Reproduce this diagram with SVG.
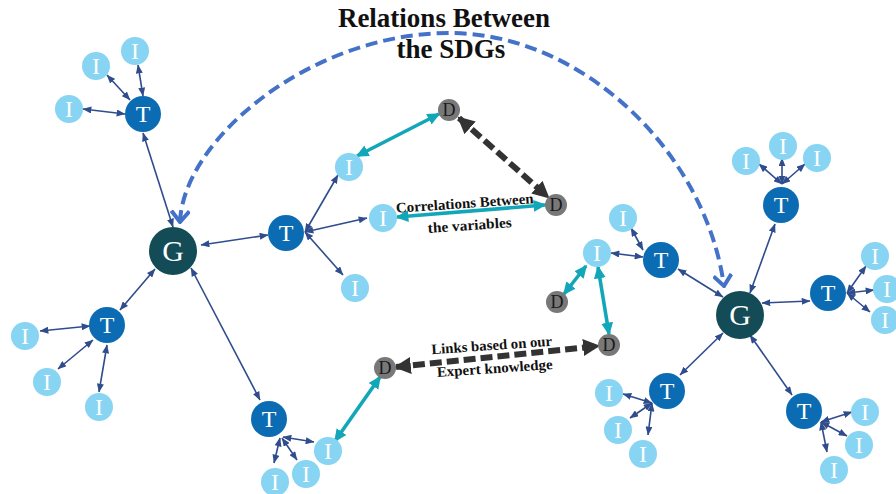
<svg xmlns="http://www.w3.org/2000/svg" width="896" height="494" viewBox="0 0 896 494">
  <style>
    .lbl { font-family: "Liberation Serif", "DejaVu Serif", serif; text-anchor: middle; }
    .g circle { fill: #134B57; }
    .t circle { fill: #0C6CB3; }
    .i circle { fill: #87D4F3; }
    .d circle { fill: #787878; }
    .g text { fill: #ffffff; font-size: 30px; }
    .t text { fill: #ffffff; font-size: 24px; }
    .i text { fill: #ffffff; font-size: 24px; }
    .d text { fill: #1a1a1a; font-size: 18px; }
    .thin { stroke: #2F4C8C; stroke-width: 1.6; fill: none; marker-start: url(#ah); marker-end: url(#ah); }
    .cyan { stroke: #12A7B8; stroke-width: 3.6; fill: none; marker-start: url(#ahc); marker-end: url(#ahc); }
    .dash { stroke: #333333; stroke-width: 6; fill: none; stroke-dasharray: 12 5; marker-start: url(#ahd); marker-end: url(#ahd); }
    .arc { stroke: #4472C8; stroke-width: 4; fill: none; stroke-dasharray: 12 6; marker-start: url(#chev); marker-end: url(#chev); }
    .note { font-family: "Liberation Serif", "DejaVu Serif", serif; font-weight: bold; font-size: 14.5px; fill: #111111; text-anchor: middle; }
    .title { font-family: "Liberation Serif", "DejaVu Serif", serif; font-weight: bold; font-size: 27px; fill: #111111; text-anchor: middle; }
  </style>
  <defs>
    <marker id="ah" viewBox="0 0 10 8" refX="9.5" refY="4" markerWidth="9" markerHeight="7" markerUnits="userSpaceOnUse" orient="auto-start-reverse">
      <path d="M0,0 L10,4 L0,8 z" fill="#2F4C8C"/>
    </marker>
    <marker id="ahc" viewBox="0 0 12 11" refX="10.5" refY="5.5" markerWidth="13" markerHeight="12" markerUnits="userSpaceOnUse" orient="auto-start-reverse">
      <path d="M0,0 L12,5.5 L0,11 z" fill="#12A7B8"/>
    </marker>
    <marker id="ahd" viewBox="0 0 16 16" refX="14" refY="8" markerWidth="17" markerHeight="17" markerUnits="userSpaceOnUse" orient="auto-start-reverse">
      <path d="M0,0 L16,8 L0,16 z" fill="#333333"/>
    </marker>
    <marker id="chev" viewBox="0 0 14 20" refX="12" refY="10" markerWidth="14" markerHeight="20" markerUnits="userSpaceOnUse" orient="auto-start-reverse">
      <path d="M1,1 L12,10 L1,19" fill="none" stroke="#4472C8" stroke-width="4"/>
    </marker>
  </defs>

  <rect width="896" height="494" fill="#ffffff"/>

  <!-- title -->
  <text class="title" x="444" y="27">Relations Between</text>
  <text class="title" x="451" y="58">the SDGs</text>

  <g id="connectors">
    <!-- dashed arc between the two goals -->
    <path class="arc" d="M180,222 C183,140 310,33 450,33 C580,33 705,150 724,286"/>

    <!-- left goal tree -->
    <path class="thin" d="M173,227 L143,133"/>
    <path class="thin" d="M130,100 L107,75"/>
    <path class="thin" d="M143,96 L138,65"/>
    <path class="thin" d="M125,114 L83,109"/>
    <path class="thin" d="M201,245 L268,235"/>
    <path class="thin" d="M305,232 L338,175"/>
    <path class="thin" d="M305,232 L367,218"/>
    <path class="thin" d="M305,232 L343,275"/>
    <path class="thin" d="M155,269 L120,310"/>
    <path class="thin" d="M90,326 L40,331"/>
    <path class="thin" d="M93,340 L58,369"/>
    <path class="thin" d="M107,345 L99,392"/>
    <path class="thin" d="M191,268 L260,400"/>
    <path class="thin" d="M283,437 L314,442"/>
    <path class="thin" d="M282,438 L297,460"/>
    <path class="thin" d="M280,438 L274,463"/>

    <!-- right goal tree -->
    <path class="thin" d="M678,269 L723,297"/>
    <path class="thin" d="M643,257 L611,253"/>
    <path class="thin" d="M643,250 L631,228"/>
    <path class="thin" d="M750,293 L775,224"/>
    <path class="thin" d="M782,184 L759,164"/>
    <path class="thin" d="M782,184 L782,158"/>
    <path class="thin" d="M782,184 L805,164"/>
    <path class="thin" d="M762,303 L810,301"/>
    <path class="thin" d="M847,293 L866,266"/>
    <path class="thin" d="M847,293 L874,290"/>
    <path class="thin" d="M847,293 L870,312"/>
    <path class="thin" d="M723,333 L680,375"/>
    <path class="thin" d="M652,403 L623,394"/>
    <path class="thin" d="M652,403 L630,418"/>
    <path class="thin" d="M652,403 L648,435"/>
    <path class="thin" d="M750,335 L792,395"/>
    <path class="thin" d="M821,422 L852,412"/>
    <path class="thin" d="M821,422 L847,436"/>
    <path class="thin" d="M821,422 L827,452"/>

    <!-- correlations between variables -->
    <path class="cyan" d="M357,156 L439,114"/>
    <path class="cyan" d="M397,217 L545,205"/>
    <path class="cyan" d="M335,441 L380,377"/>
    <path class="cyan" d="M586,266 L564,294"/>
    <path class="cyan" d="M598,267 L609,334"/>

    <!-- expert knowledge links -->
    <path class="dash" d="M459,118 L548,197"/>
    <path class="dash" d="M396,367 L598,346"/>
  </g>

  <!-- link labels -->
  <text class="note" x="465" y="208" transform="rotate(-4 465 208)" textLength="138" lengthAdjust="spacingAndGlyphs">Correlations Between</text>
  <text class="note" x="470" y="230" transform="rotate(-4 470 230)" textLength="84" lengthAdjust="spacingAndGlyphs">the  variables</text>
  <text class="note" x="492" y="350" transform="rotate(-4 492 350)" textLength="121" lengthAdjust="spacingAndGlyphs">Links based on our</text>
  <text class="note" x="495" y="373" transform="rotate(-4 495 373)" textLength="116" lengthAdjust="spacingAndGlyphs">Expert knowledge</text>

  <!-- left goal -->
  <g id="G1" class="g"><circle cx="173" cy="251" r="24"/><text class="lbl" x="173" y="261">G</text></g>
  <g id="T1" class="t"><circle cx="143" cy="114" r="18"/><text class="lbl" x="143" y="122">T</text></g>
  <g id="I1a" class="i"><circle cx="135" cy="51" r="14"/><text class="lbl" x="135" y="59">I</text></g>
  <g id="I1b" class="i"><circle cx="96" cy="66" r="14"/><text class="lbl" x="96" y="74">I</text></g>
  <g id="I1c" class="i"><circle cx="69" cy="109" r="14"/><text class="lbl" x="69" y="117">I</text></g>
  <g id="T2" class="t"><circle cx="286" cy="233" r="18"/><text class="lbl" x="286" y="241">T</text></g>
  <g id="I2a" class="i"><circle cx="349" cy="167" r="14"/><text class="lbl" x="349" y="175">I</text></g>
  <g id="I2b" class="i"><circle cx="383" cy="218" r="14"/><text class="lbl" x="383" y="226">I</text></g>
  <g id="I2c" class="i"><circle cx="355" cy="288" r="14"/><text class="lbl" x="355" y="296">I</text></g>
  <g id="T3" class="t"><circle cx="107" cy="325" r="18"/><text class="lbl" x="107" y="333">T</text></g>
  <g id="I3a" class="i"><circle cx="25" cy="336" r="14"/><text class="lbl" x="25" y="344">I</text></g>
  <g id="I3b" class="i"><circle cx="47" cy="382" r="14"/><text class="lbl" x="47" y="390">I</text></g>
  <g id="I3c" class="i"><circle cx="99" cy="407" r="14"/><text class="lbl" x="99" y="415">I</text></g>
  <g id="T4" class="t"><circle cx="269" cy="419" r="18"/><text class="lbl" x="269" y="427">T</text></g>
  <g id="I4a" class="i"><circle cx="328" cy="451" r="14"/><text class="lbl" x="328" y="459">I</text></g>
  <g id="I4b" class="i"><circle cx="306" cy="474" r="14"/><text class="lbl" x="306" y="482">I</text></g>
  <g id="I4c" class="i"><circle cx="275" cy="482" r="14"/><text class="lbl" x="275" y="490">I</text></g>

  <!-- data nodes -->
  <g id="D1" class="d"><circle cx="449" cy="110" r="11"/><text class="lbl" x="449" y="116">D</text></g>
  <g id="D2" class="d"><circle cx="556" cy="205" r="11"/><text class="lbl" x="556" y="211">D</text></g>
  <g id="D3" class="d"><circle cx="385" cy="368" r="11"/><text class="lbl" x="385" y="374">D</text></g>
  <g id="D4" class="d"><circle cx="609" cy="345" r="11"/><text class="lbl" x="609" y="351">D</text></g>
  <g id="D5" class="d"><circle cx="557" cy="302" r="11"/><text class="lbl" x="557" y="308">D</text></g>

  <!-- right goal -->
  <g id="G2" class="g"><circle cx="740" cy="315" r="24"/><text class="lbl" x="740" y="325">G</text></g>
  <g id="T5" class="t"><circle cx="661" cy="260" r="18"/><text class="lbl" x="661" y="268">T</text></g>
  <g id="I5a" class="i"><circle cx="597" cy="253" r="14"/><text class="lbl" x="597" y="261">I</text></g>
  <g id="I5b" class="i"><circle cx="623" cy="218" r="14"/><text class="lbl" x="623" y="226">I</text></g>
  <g id="T6" class="t"><circle cx="781" cy="205" r="18"/><text class="lbl" x="781" y="213">T</text></g>
  <g id="I6a" class="i"><circle cx="746" cy="161" r="14"/><text class="lbl" x="746" y="169">I</text></g>
  <g id="I6b" class="i"><circle cx="783" cy="146" r="14"/><text class="lbl" x="783" y="154">I</text></g>
  <g id="I6c" class="i"><circle cx="817" cy="158" r="14"/><text class="lbl" x="817" y="166">I</text></g>
  <g id="T7" class="t"><circle cx="828" cy="293" r="18"/><text class="lbl" x="828" y="301">T</text></g>
  <g id="I7a" class="i"><circle cx="875" cy="256" r="14"/><text class="lbl" x="875" y="264">I</text></g>
  <g id="I7b" class="i"><circle cx="887" cy="289" r="14"/><text class="lbl" x="887" y="297">I</text></g>
  <g id="I7c" class="i"><circle cx="885" cy="320" r="14"/><text class="lbl" x="885" y="328">I</text></g>
  <g id="T8" class="t"><circle cx="667" cy="391" r="18"/><text class="lbl" x="667" y="399">T</text></g>
  <g id="I8a" class="i"><circle cx="609" cy="393" r="14"/><text class="lbl" x="609" y="401">I</text></g>
  <g id="I8b" class="i"><circle cx="618" cy="430" r="14"/><text class="lbl" x="618" y="438">I</text></g>
  <g id="I8c" class="i"><circle cx="643" cy="454" r="14"/><text class="lbl" x="643" y="462">I</text></g>
  <g id="T9" class="t"><circle cx="804" cy="411" r="18"/><text class="lbl" x="804" y="419">T</text></g>
  <g id="I9a" class="i"><circle cx="865" cy="412" r="14"/><text class="lbl" x="865" y="420">I</text></g>
  <g id="I9b" class="i"><circle cx="859" cy="445" r="14"/><text class="lbl" x="859" y="453">I</text></g>
  <g id="I9c" class="i"><circle cx="834" cy="470" r="14"/><text class="lbl" x="834" y="478">I</text></g>
</svg>
